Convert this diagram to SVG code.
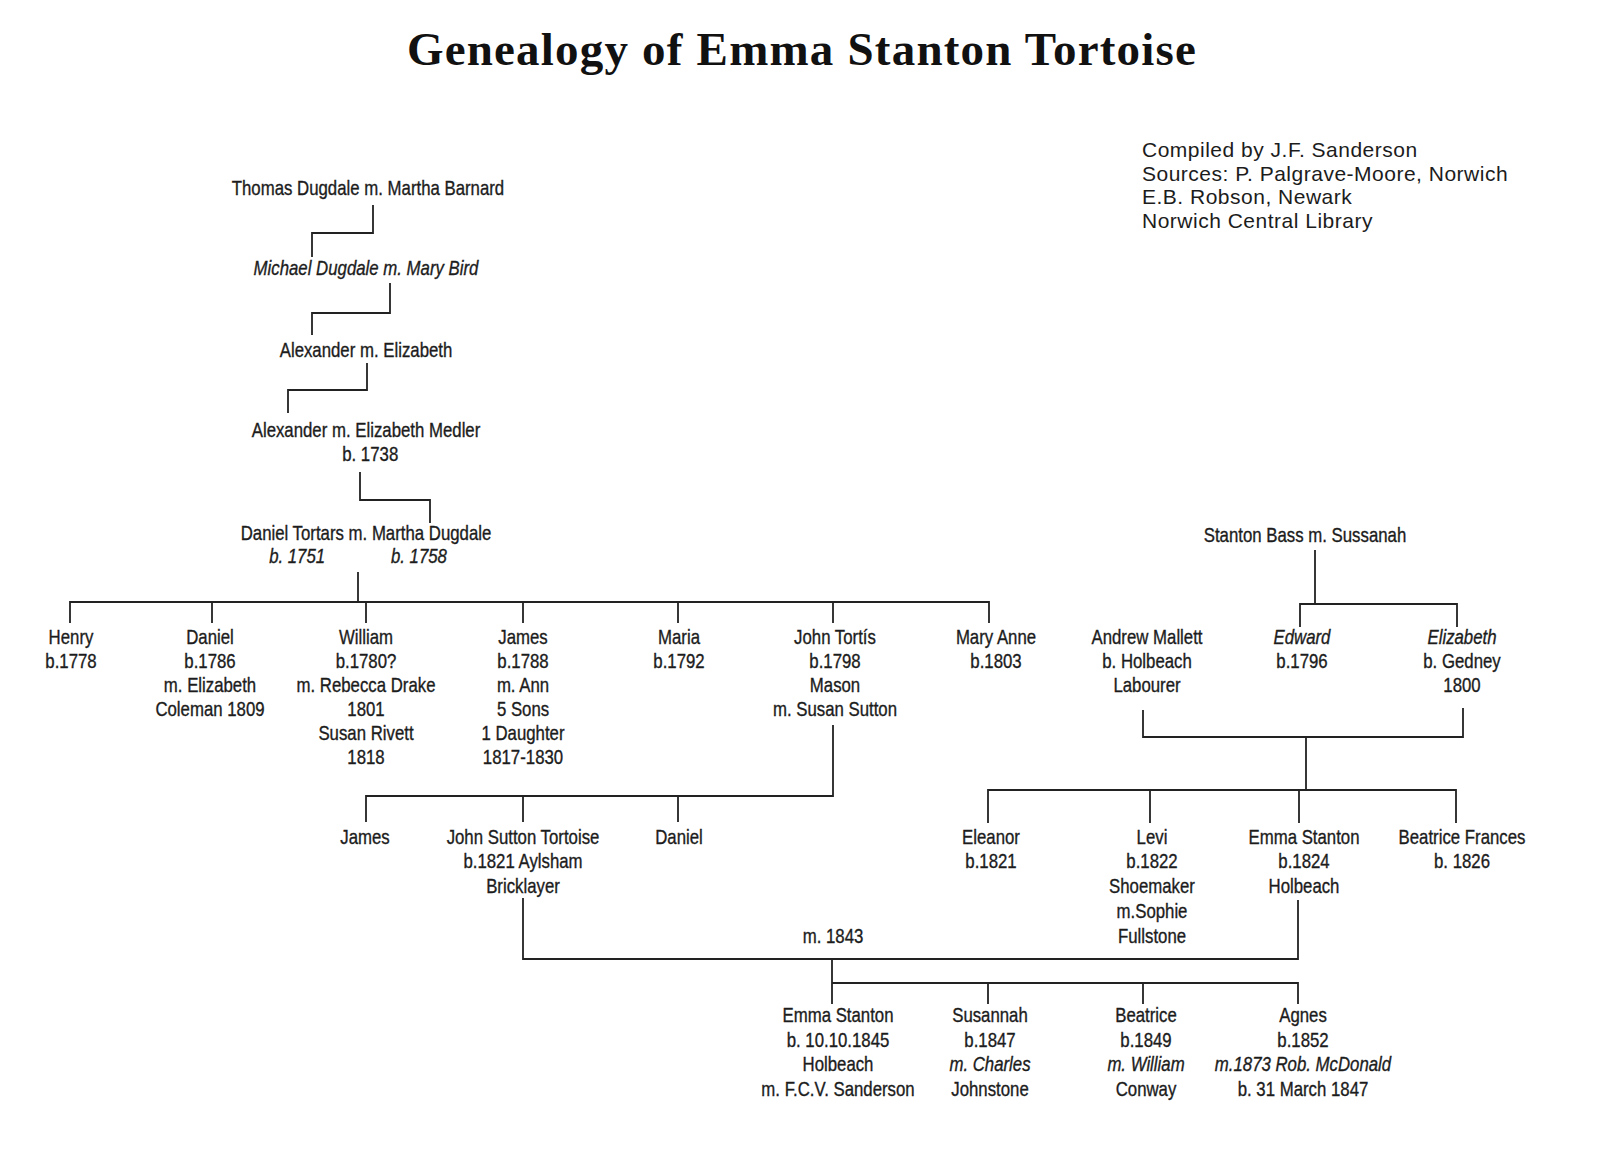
<svg xmlns="http://www.w3.org/2000/svg" width="1613" height="1161" viewBox="0 0 1613 1161">
<style>
.t{font-family:"Liberation Sans",Arial,sans-serif;font-size:20px;fill:#1c1c1c;stroke:#1c1c1c;stroke-width:0.35;text-anchor:middle}
.i{font-style:italic}
.title{font-family:"Liberation Serif","Times New Roman",serif;font-size:47px;font-weight:bold;letter-spacing:1.2px;fill:#111;text-anchor:middle}
.src{font-family:"Liberation Sans",Arial,sans-serif;font-size:21px;letter-spacing:0.5px;fill:#1c1c1c}
.c{stroke:#222;stroke-width:1.8;fill:none}
</style>
<rect width="1613" height="1161" fill="#fff"/>
<text class="title" x="802" y="65">Genealogy of Emma Stanton Tortoise</text>
<g id="sources" class="src">
<text x="1142" y="157">Compiled by J.F. Sanderson</text>
<text x="1142" y="181">Sources: P. Palgrave-Moore, Norwich</text>
<text x="1142" y="204">E.B. Robson, Newark</text>
<text x="1142" y="228">Norwich Central Library</text>
</g>
<g id="connectors" class="c">
<path d="M373,205 V233 H312 V257"/>
<path d="M390,283 V313 H312 V335"/>
<path d="M367,363 V390 H288 V413"/>
<path d="M360,472 V500 H430 V523"/>
<path d="M358,572 V602"/>
<path d="M70,623 V602 H989 V623"/>
<path d="M212,602 V623 M366,602 V623 M523,602 V623 M678,602 V623 M833,602 V623"/>
<path d="M833,725 V796 H366 V822 M523,796 V822 M678,796 V822"/>
<path d="M1315,550 V604 M1300,627 V604 H1457 V627"/>
<path d="M1143,710 V737 H1463 V708 M1306,737 V790 M988,823 V790 H1456 V823 M1150,790 V823 M1299,790 V823"/>
<path d="M523,898 V959 H1298 V900"/>
<path d="M832,959 V1004 M832,983 H1298 V1004 M988,983 V1004 M1143,983 V1004"/>
</g>
<g id="marriage-1843" class="t" transform="translate(833 0) scale(0.84 1)"><text x="0" y="943">m. 1843</text></g>
<g id="thomas-dugdale" class="t" transform="translate(368 0) scale(0.84 1)"><text x="0" y="195">Thomas Dugdale m. Martha Barnard</text></g>
<g id="michael-dugdale" class="t i" transform="translate(366 0) scale(0.84 1)"><text x="0" y="275">Michael Dugdale m. Mary Bird</text></g>
<g id="alexander-1" class="t" transform="translate(366 0) scale(0.84 1)"><text x="0" y="357">Alexander m. Elizabeth</text></g>
<g id="alexander-2" class="t" transform="translate(366 0) scale(0.84 1)"><text x="0" y="437">Alexander m. Elizabeth Medler</text><text x="5" y="461">b. 1738</text></g>
<g id="daniel-tortars" class="t" transform="translate(366 0) scale(0.84 1)"><text x="0" y="540">Daniel Tortars m. Martha Dugdale</text><text class="i" x="-82" y="563">b. 1751</text><text class="i" x="63" y="563">b. 1758</text></g>
<g id="henry" class="t" transform="translate(71 0) scale(0.84 1)"><text x="0" y="644">Henry</text><text x="0" y="668">b.1778</text></g>
<g id="daniel" class="t" transform="translate(210 0) scale(0.84 1)"><text x="0" y="644">Daniel</text><text x="0" y="668">b.1786</text><text x="0" y="692">m. Elizabeth</text><text x="0" y="716">Coleman 1809</text></g>
<g id="william" class="t" transform="translate(366 0) scale(0.84 1)"><text x="0" y="644">William</text><text x="0" y="668">b.1780?</text><text x="0" y="692">m. Rebecca Drake</text><text x="0" y="716">1801</text><text x="0" y="740">Susan Rivett</text><text x="0" y="764">1818</text></g>
<g id="james" class="t" transform="translate(523 0) scale(0.84 1)"><text x="0" y="644">James</text><text x="0" y="668">b.1788</text><text x="0" y="692">m. Ann</text><text x="0" y="716">5 Sons</text><text x="0" y="740">1 Daughter</text><text x="0" y="764">1817-1830</text></g>
<g id="maria" class="t" transform="translate(679 0) scale(0.84 1)"><text x="0" y="644">Maria</text><text x="0" y="668">b.1792</text></g>
<g id="john-tortis" class="t" transform="translate(835 0) scale(0.84 1)"><text x="0" y="644">John Tortís</text><text x="0" y="668">b.1798</text><text x="0" y="692">Mason</text><text x="0" y="716">m. Susan Sutton</text></g>
<g id="mary-anne" class="t" transform="translate(996 0) scale(0.84 1)"><text x="0" y="644">Mary Anne</text><text x="0" y="668">b.1803</text></g>
<g id="stanton-bass" class="t" transform="translate(1305 0) scale(0.84 1)"><text x="0" y="542">Stanton Bass m. Sussanah</text></g>
<g id="andrew-mallett" class="t" transform="translate(1147 0) scale(0.84 1)"><text x="0" y="644">Andrew Mallett</text><text x="0" y="668">b. Holbeach</text><text x="0" y="692">Labourer</text></g>
<g id="edward" class="t" transform="translate(1302 0) scale(0.84 1)"><text class="i" x="0" y="644">Edward</text><text x="0" y="668">b.1796</text></g>
<g id="elizabeth" class="t" transform="translate(1462 0) scale(0.84 1)"><text class="i" x="0" y="644">Elizabeth</text><text x="0" y="668">b. Gedney</text><text x="0" y="692">1800</text></g>
<g id="james-2" class="t" transform="translate(365 0) scale(0.84 1)"><text x="0" y="844">James</text></g>
<g id="john-sutton-tortoise" class="t" transform="translate(523 0) scale(0.84 1)"><text x="0" y="844">John Sutton Tortoise</text><text x="0" y="868">b.1821 Aylsham</text><text x="0" y="893">Bricklayer</text></g>
<g id="daniel-2" class="t" transform="translate(679 0) scale(0.84 1)"><text x="0" y="844">Daniel</text></g>
<g id="eleanor" class="t" transform="translate(991 0) scale(0.84 1)"><text x="0" y="844">Eleanor</text><text x="0" y="868">b.1821</text></g>
<g id="levi" class="t" transform="translate(1152 0) scale(0.84 1)"><text x="0" y="844">Levi</text><text x="0" y="868">b.1822</text><text x="0" y="893">Shoemaker</text><text x="0" y="918">m.Sophie</text><text x="0" y="943">Fullstone</text></g>
<g id="emma-stanton-1824" class="t" transform="translate(1304 0) scale(0.84 1)"><text x="0" y="844">Emma Stanton</text><text x="0" y="868">b.1824</text><text x="0" y="893">Holbeach</text></g>
<g id="beatrice-frances" class="t" transform="translate(1462 0) scale(0.84 1)"><text x="0" y="844">Beatrice Frances</text><text x="0" y="868">b. 1826</text></g>
<g id="emma-stanton-1845" class="t" transform="translate(838 0) scale(0.84 1)"><text x="0" y="1022">Emma Stanton</text><text x="0" y="1047">b. 10.10.1845</text><text x="0" y="1071">Holbeach</text><text x="0" y="1096">m. F.C.V. Sanderson</text></g>
<g id="susannah" class="t" transform="translate(990 0) scale(0.84 1)"><text x="0" y="1022">Susannah</text><text x="0" y="1047">b.1847</text><text class="i" x="0" y="1071">m. Charles</text><text x="0" y="1096">Johnstone</text></g>
<g id="beatrice" class="t" transform="translate(1146 0) scale(0.84 1)"><text x="0" y="1022">Beatrice</text><text x="0" y="1047">b.1849</text><text class="i" x="0" y="1071">m. William</text><text x="0" y="1096">Conway</text></g>
<g id="agnes" class="t" transform="translate(1303 0) scale(0.84 1)"><text x="0" y="1022">Agnes</text><text x="0" y="1047">b.1852</text><text class="i" x="0" y="1071">m.1873 Rob. McDonald</text><text x="0" y="1096">b. 31 March 1847</text></g>
</svg>
